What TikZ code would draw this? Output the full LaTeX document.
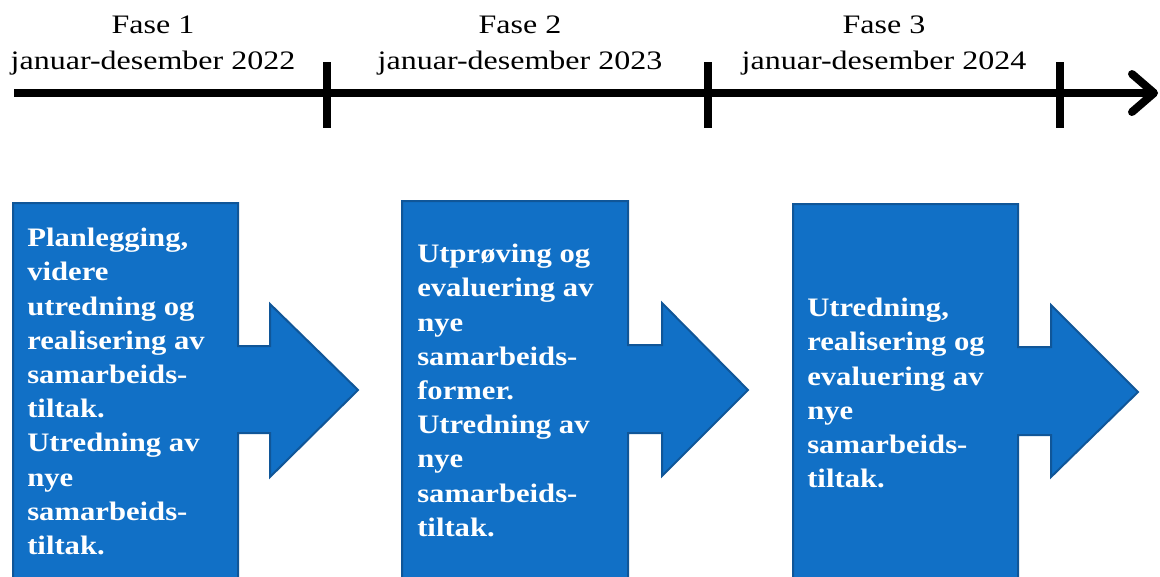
\documentclass[tikz,border=0pt]{standalone}
\usepackage{fontspec}
\setmainfont{Liberation Serif}[FakeStretch=1.15]
\newfontfamily\hdrfont{Liberation Serif}[FakeStretch=1.2]
\definecolor{boxblue}{RGB}{17,112,198}
\definecolor{boxedge}{RGB}{16,86,152}
\begin{document}
\begin{tikzpicture}[x=0.75pt,y=-0.75pt,
  hdr/.style={anchor=base,inner sep=0pt,font=\hdrfont\fontsize{20}{27}\selectfont},
  bxtext/.style={anchor=north west,inner sep=0pt,align=left,text=white,
    font=\bfseries\fontsize{20}{25.65}\selectfont},
  phase/.style={fill=boxblue,draw=boxedge,line width=1.5pt,line join=miter},
  axis/.style={line width=6pt},
  tick/.style={line width=6pt}]
\useasboundingbox (0,0) rectangle (1160,576);
\clip (0,0) rectangle (1160,576);
% timeline
\coordinate (t0) at (14,93);
\coordinate (tend) at (1154,93);
\draw[axis] (t0) -- (tend);
\draw[axis,line cap=round,line join=round] (1132,74) -- (tend) -- (1132,112);
\draw[tick] (327,62) -- (327,128);
\draw[tick] (708,62) -- (708,128);
\draw[tick] (1060,62) -- (1060,128);
% headers
\node[hdr] (f1) at (153,33) {Fase 1};
\node[hdr] (d1) at (153,69) {januar-desember 2022};
\node[hdr] (f2) at (520,33) {Fase 2};
\node[hdr] (d2) at (520,69) {januar-desember 2023};
\node[hdr] (f3) at (884,33) {Fase 3};
\node[hdr] (d3) at (884,69) {januar-desember 2024};
% phase arrows
\draw[phase] (13,203) -- (238,203) -- (238,346) -- (270,346) -- (270,304) -- (358,390)
  -- (270,477) -- (270,433) -- (238,433) -- (238,600) -- (13,600) -- cycle;
\draw[phase] (402,201) -- (628,201) -- (628,345) -- (662,345) -- (662,303) -- (748,390)
  -- (662,476) -- (662,433) -- (628,433) -- (628,600) -- (402,600) -- cycle;
\draw[phase] (793,204) -- (1018,204) -- (1018,347) -- (1051,347) -- (1051,305) -- (1138,392)
  -- (1051,477) -- (1051,435) -- (1018,435) -- (1018,600) -- (793,600) -- cycle;
% texts
\node[bxtext] (b1) at (27,228) {Planlegging,\\videre\\utredning og\\realisering av\\samarbeids-\\tiltak.\\Utredning av\\nye\\samarbeids-\\tiltak.};
\node[bxtext] (b2) at (417,244) {Utprøving og\\evaluering av\\nye\\samarbeids-\\former.\\Utredning av\\nye\\samarbeids-\\tiltak.};
\node[bxtext] (b3) at (807,298) {Utredning,\\realisering og\\evaluering av\\nye\\samarbeids-\\tiltak.};
\end{tikzpicture}
\end{document}
